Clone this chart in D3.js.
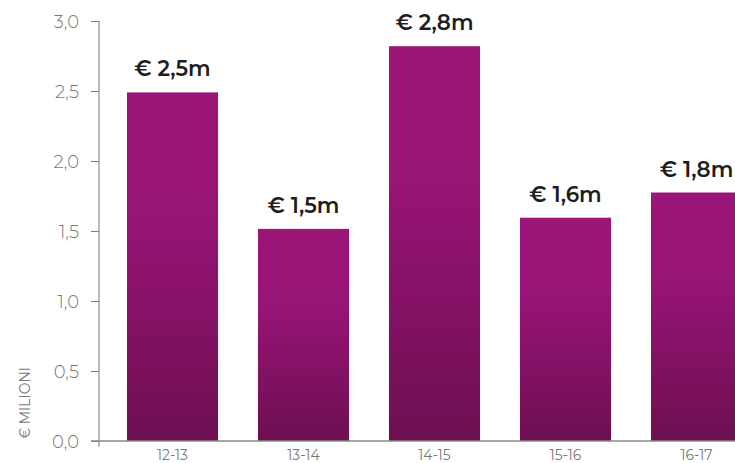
<!DOCTYPE html>
<html>
<head>
<meta charset="utf-8">
<script src="https://cdn.jsdelivr.net/npm/d3@7"></script>
<style>
  body { margin: 0; background: #fff; }
  text { font-family: Montserrat, Inter, "Noto Sans", sans-serif; }
</style>
</head>
<body>
<div id="chart"></div>
<script>
const seasons = ["12-13", "13-14", "14-15", "15-16", "16-17"];
const values = [2.49, 1.515, 2.82, 1.595, 1.775];
const valueLabels = ["€ 2,5m", "€ 1,5m", "€ 2,8m", "€ 1,6m", "€ 1,8m"];
const yTicks = [0, 0.5, 1, 1.5, 2, 2.5, 3];

const width = 735;
const height = 463;

const svg = d3.select("#chart").append("svg")
  .attr("width", width)
  .attr("height", height);

const defs = svg.append("defs");
const grad = defs.append("linearGradient")
  .attr("id", "barGrad")
  .attr("x1", 0).attr("y1", 0).attr("x2", 0).attr("y2", 1);
grad.append("stop").attr("offset", "0%").attr("stop-color", "#9c1578");
grad.append("stop").attr("offset", "35%").attr("stop-color", "#981476");
grad.append("stop").attr("offset", "100%").attr("stop-color", "#6d0f51");

const x = d3.scaleBand()
  .domain(seasons)
  .range([107, 762])
  .paddingInner(0.305)
  .paddingOuter(0.1525);

const y = d3.scaleLinear()
  .domain([0, 3])
  .range([441, 21]);

// bars
svg.selectAll("rect.bar")
  .data(values)
  .join("rect")
  .attr("class", "bar")
  .attr("x", (d, i) => x(seasons[i]))
  .attr("y", d => y(d))
  .attr("width", x.bandwidth())
  .attr("height", d => y(0) - y(d))
  .attr("fill", "url(#barGrad)");

// value labels
svg.selectAll("text.val")
  .data(values)
  .join("text")
  .attr("class", "val")
  .attr("x", (d, i) => x(seasons[i]) + x.bandwidth() / 2)
  .attr("y", d => y(d) - 16)
  .attr("text-anchor", "middle")
  .attr("font-size", 21.5)
  .attr("font-weight", 600)
  .attr("fill", "#1e1e1e")
  .text((d, i) => valueLabels[i]);

// y axis
const yAxis = svg.append("g")
  .attr("transform", "translate(99,0)")
  .call(d3.axisLeft(y).tickValues(yTicks).tickSize(8).tickPadding(12)
    .tickFormat(d => d3.format(".1f")(d).replace(".", ",")));
yAxis.select(".domain").attr("stroke", "#777").attr("d", "M0,21V447");
yAxis.selectAll(".tick line").attr("stroke", "#777");
yAxis.selectAll(".tick text")
  .attr("fill", "#777")
  .attr("font-size", 18)
  .attr("font-weight", 300)
  .attr("dy", "0.35em");

// baseline
svg.append("line")
  .attr("x1", 91).attr("x2", width)
  .attr("y1", y(0)).attr("y2", y(0))
  .attr("stroke", "#888")
  .attr("stroke-width", 1.5);

// x labels
svg.selectAll("text.xl")
  .data(seasons)
  .join("text")
  .attr("class", "xl")
  .attr("x", d => x(d) + x.bandwidth() / 2)
  .attr("y", 460)
  .attr("text-anchor", "middle")
  .attr("font-size", 14)
  .attr("fill", "#777")
  .text(d => d);

// y title
svg.append("text")
  .attr("transform", "rotate(-90)")
  .attr("x", -403)
  .attr("y", 30)
  .attr("text-anchor", "middle")
  .attr("font-size", 14)
  .attr("fill", "#777")
  .text("€ MILIONI");
</script>
</body>
</html>
